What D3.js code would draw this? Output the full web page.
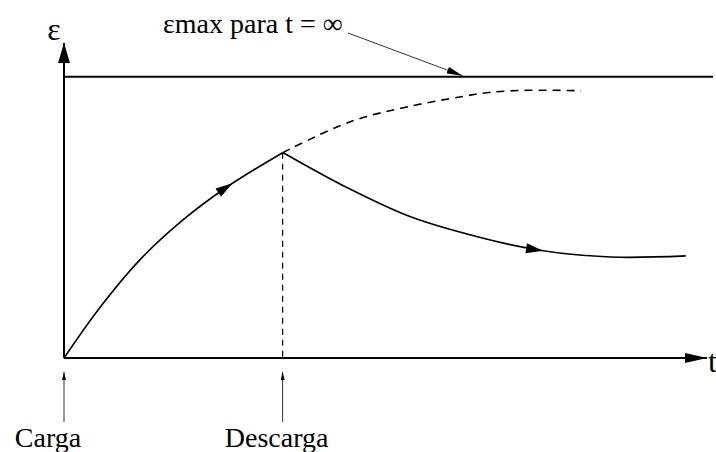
<!DOCTYPE html>
<html>
<head>
<meta charset="utf-8">
<script src="https://cdn.jsdelivr.net/npm/d3@7"></script>
<style>
  body { margin: 0; background: #fff; }
</style>
</head>
<body>
<div id="creep"></div>
<script>
// Loading branch (creep under load)
const loadTime   = [0, 0.53, 1.18, 1.85, 2.54, 3.40];
const loadStrain = [0, 0.171, 0.349, 0.491, 0.609, 0.730];

// What the strain would do if the load stayed (dashed)
const keepTime   = [3.40, 4.45, 5.34, 6.20, 6.64, 7.26, 8.04];
const keepStrain = [0.730, 0.840, 0.893, 0.930, 0.945, 0.952, 0.950];

// Recovery after unloading
const unloadTime   = [3.41, 4.41, 5.39, 6.43, 7.37, 8.50, 9.67];
const unloadStrain = [0.730, 0.605, 0.502, 0.431, 0.384, 0.359, 0.363];

const strainMax = 1;           // εmax para t = ∞
const tMax = 10;
const strainTop = 1.12;

const eventTimes  = [0, 3.40];
const eventLabels = ["Carga", "Descarga"];
const eventOffsets = [-16, -6];

const arrowTimes = [2.62, 7.45];   // direction arrows on the curves

const width = 716;
const height = 452;
const serif = "Liberation Serif";

const xScale = d3.scaleLinear().domain([0, tMax]).range([64, 707]);
const yScale = d3.scaleLinear().domain([0, strainTop]).range([358, 43]);

const svg = d3.select("#creep")
  .append("svg")
    .attr("width", width)
    .attr("height", height)
    .attr("viewBox", [0, 0, width, height]);

// Arrow heads
const defs = svg.append("defs");
const addMarker = (id, len, wid) => {
  defs.append("marker")
      .attr("id", id)
      .attr("markerUnits", "userSpaceOnUse")
      .attr("viewBox", `0 ${-wid / 2} ${len} ${wid}`)
      .attr("markerWidth", len)
      .attr("markerHeight", wid)
      .attr("refX", len)
      .attr("refY", 0)
      .attr("orient", "auto")
    .append("path")
      .attr("d", `M0,${-wid / 2}L${len},0L0,${wid / 2}Z`)
      .attr("fill", "#000");
};
addMarker("arrow-y", 20, 12);
addMarker("arrow-x", 22, 10);
addMarker("arrow-note", 16, 7);
addMarker("arrow-small", 8, 4);

/*******************************/
/*            Axes             */
/*******************************/
svg.append("line")
    .attr("x1", xScale(0)).attr("y1", yScale(0))
    .attr("x2", xScale(0)).attr("y2", yScale(strainTop))
    .attr("stroke", "#000")
    .attr("stroke-width", 2)
    .attr("marker-end", "url(#arrow-y)");

svg.append("line")
    .attr("x1", xScale(0)).attr("y1", yScale(0))
    .attr("x2", xScale(tMax)).attr("y2", yScale(0))
    .attr("stroke", "#000")
    .attr("stroke-width", 2)
    .attr("marker-end", "url(#arrow-x)");

svg.append("text")
    .attr("x", xScale(0) - 10)
    .attr("y", yScale(strainTop) - 3)
    .attr("text-anchor", "middle")
    .style("font-family", serif)
    .style("font-size", "32px")
    .text("ε");

svg.append("text")
    .attr("x", xScale(tMax) + 1)
    .attr("y", yScale(0) + 14)
    .style("font-family", serif)
    .style("font-size", "32px")
    .text("t");

// Asymptote εmax
svg.append("line")
    .attr("x1", xScale(0)).attr("y1", yScale(strainMax))
    .attr("x2", xScale(tMax) + 6).attr("y2", yScale(strainMax))
    .attr("stroke", "#000")
    .attr("stroke-width", 2);

svg.append("text")
    .attr("x", 163)
    .attr("y", 33)
    .style("font-family", serif)
    .style("font-size", "28px")
    .text("εmax para t = ∞");

svg.append("line")
    .attr("x1", 348).attr("y1", 33)
    .attr("x2", xScale(6.2)).attr("y2", yScale(strainMax) - 1)
    .attr("stroke", "#333")
    .attr("stroke-width", 1)
    .attr("marker-end", "url(#arrow-note)");

/*******************************/
/*           Curves            */
/*******************************/
const lineGen = d3.line()
  .x(d => xScale(d[0]))
  .y(d => yScale(d[1]))
  .curve(d3.curveCatmullRom);

const loadPath = svg.append("path")
    .attr("d", lineGen(d3.zip(loadTime, loadStrain)))
    .attr("fill", "none")
    .attr("stroke", "#000")
    .attr("stroke-width", 1.6);

svg.append("path")
    .attr("d", lineGen(d3.zip(keepTime, keepStrain)))
    .attr("fill", "none")
    .attr("stroke", "#000")
    .attr("stroke-width", 1.6)
    .attr("stroke-dasharray", "8,6");

const unloadPath = svg.append("path")
    .attr("d", lineGen(d3.zip(unloadTime, unloadStrain)))
    .attr("fill", "none")
    .attr("stroke", "#000")
    .attr("stroke-width", 1.6);

// Dashed drop line at unloading
svg.append("line")
    .attr("x1", xScale(eventTimes[1])).attr("y1", yScale(loadStrain[loadStrain.length - 1]))
    .attr("x2", xScale(eventTimes[1])).attr("y2", yScale(0))
    .attr("stroke", "#000")
    .attr("stroke-width", 1.2)
    .attr("stroke-dasharray", "6,5");

// Direction arrows placed on the curves
const pointAtX = (node, x) => {
  const total = node.getTotalLength();
  let lo = 0, hi = total;
  for (let i = 0; i < 40; i++) {
    const mid = (lo + hi) / 2;
    if (node.getPointAtLength(mid).x < x) lo = mid; else hi = mid;
  }
  return lo;
};
[[loadPath, arrowTimes[0]], [unloadPath, arrowTimes[1]]].forEach(([p, t]) => {
  const node = p.node();
  const l = pointAtX(node, xScale(t));
  const tip = node.getPointAtLength(l);
  const back = node.getPointAtLength(Math.max(0, l - 4));
  const angle = Math.atan2(tip.y - back.y, tip.x - back.x) * 180 / Math.PI;
  svg.append("path")
      .attr("d", "M0,0L-17,-5L-17,5Z")
      .attr("transform", `translate(${tip.x},${tip.y}) rotate(${angle})`)
      .attr("fill", "#000");
});

/*******************************/
/*      Load / unload notes    */
/*******************************/
eventTimes.forEach((t, i) => {
  svg.append("line")
      .attr("x1", xScale(t)).attr("y1", yScale(0) + 64)
      .attr("x2", xScale(t)).attr("y2", yScale(0) + 14)
      .attr("stroke", "#333")
      .attr("stroke-width", 1)
      .attr("marker-end", "url(#arrow-small)");
  svg.append("text")
      .attr("x", xScale(t) + eventOffsets[i])
      .attr("y", yScale(0) + 89)
      .attr("text-anchor", "middle")
      .style("font-family", serif)
      .style("font-size", "28px")
      .text(eventLabels[i]);
});
</script>
</body>
</html>
